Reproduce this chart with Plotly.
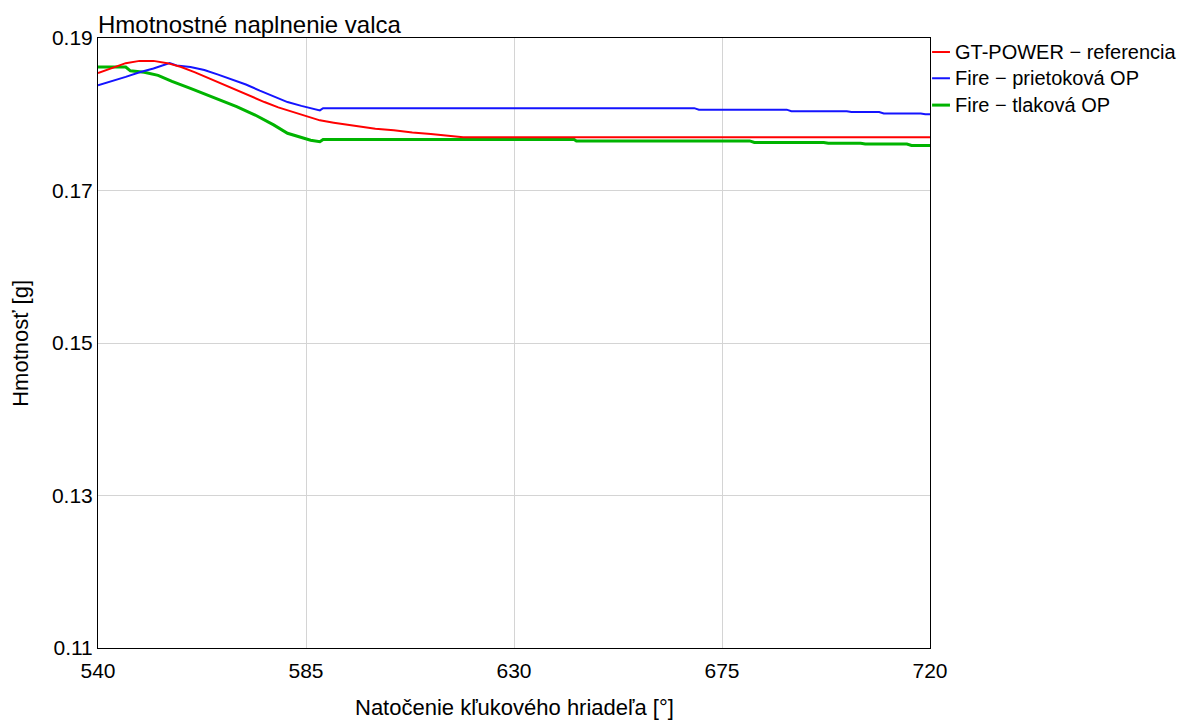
import plotly.graph_objects as go

# Crank angle [deg] and cylinder mass [g] for each model
angle_gt = [540, 543, 546, 549, 552, 555, 558, 561, 564, 567, 570, 573, 576, 579,
            582, 585, 588, 591, 594, 597, 600, 604, 608, 612, 616, 619, 720]
mass_gt = [0.1854, 0.1861, 0.1867, 0.1870, 0.1870, 0.1867, 0.1862, 0.1855, 0.1847,
           0.1840, 0.1832, 0.1824, 0.1816, 0.1809, 0.1803, 0.1797, 0.1792, 0.1789,
           0.1786, 0.1783, 0.1781, 0.1779, 0.1776, 0.1774, 0.1772, 0.1770, 0.1770]

angle_flow = [540, 543, 546, 549, 552, 555.5, 557, 560, 563, 566, 569, 572, 575,
              578, 581, 584, 586, 588, 588.7, 669, 670, 689, 690, 702, 703, 709,
              710, 718, 719, 720]
mass_flow = [0.1838, 0.1843, 0.1849, 0.1855, 0.1860, 0.1867, 0.1864, 0.1862,
             0.1858, 0.1852, 0.1846, 0.1839, 0.1831, 0.1823, 0.1816, 0.1811,
             0.1808, 0.1805, 0.1808, 0.1808, 0.1806, 0.1806, 0.1804, 0.1804,
             0.1803, 0.1803, 0.1801, 0.1801, 0.1800, 0.1800]

angle_press = [540, 546, 547, 550, 553, 556, 560, 563, 567, 570, 574, 578, 581,
               584, 586, 588, 588.7, 643, 643.5, 681, 682, 697, 698, 705, 706,
               715, 716, 720]
mass_press = [0.1862, 0.1862, 0.1857, 0.1855, 0.1851, 0.1843, 0.1834, 0.1827,
              0.1818, 0.1810, 0.1799, 0.1786, 0.1775, 0.1769, 0.1766, 0.1764,
              0.1767, 0.1767, 0.1765, 0.1765, 0.1763, 0.1763, 0.1762, 0.1762,
              0.1761, 0.1761, 0.1759, 0.1759]

series_names = ["GT-POWER \u2212 referencia", "Fire \u2212 prietoková OP",
                "Fire \u2212 tlaková OP"]
series_colors = ["#ff0000", "#1414ff", "#00b400"]
series_widths = [2, 2, 3]

x_ticks = [540, 585, 630, 675, 720]
y_ticks = [0.11, 0.13, 0.15, 0.17, 0.19]
y_tick_text = ["0.11", "0.13", "0.15", "0.17", "0.19"]

FONT = "Liberation Sans, Arial, sans-serif"

fig = go.Figure()
data = [(angle_gt, mass_gt), (angle_flow, mass_flow), (angle_press, mass_press)]
# draw the thick green line first so the reference curve stays on top
for i in [2, 1, 0]:
    xs, ys = data[i]
    fig.add_trace(go.Scatter(
        x=xs, y=ys, mode="lines", name=series_names[i],
        line=dict(color=series_colors[i], width=series_widths[i]),
        showlegend=False,
    ))

# legend drawn beside the plot area with short line keys
legend_y = [0.977, 0.934, 0.890]
for i, yy in enumerate(legend_y):
    fig.add_shape(type="line", xref="paper", yref="paper",
                  x0=1.0025, x1=1.024, y0=yy, y1=yy,
                  line=dict(color=series_colors[i], width=series_widths[i]))
    fig.add_annotation(xref="paper", yref="paper", x=1.028, y=yy,
                       xanchor="left", yanchor="middle", showarrow=False,
                       text=series_names[i],
                       font=dict(family=FONT, size=20, color="black"))

fig.add_annotation(xref="paper", yref="paper", x=0, y=1, xanchor="left",
                   yanchor="bottom", showarrow=False, xshift=-2, yshift=-2,
                   text="Hmotnostné naplnenie valca",
                   font=dict(family=FONT, size=24, color="black"))
fig.add_annotation(xref="paper", yref="paper", x=0.5, y=-0.098,
                   xanchor="center", yanchor="middle", showarrow=False,
                   text="Natočenie kľukového hriadeľa [°]",
                   font=dict(family=FONT, size=22, color="black"))
fig.add_annotation(xref="paper", yref="paper", x=-0.094, y=0.5,
                   xanchor="center", yanchor="middle", showarrow=False,
                   textangle=-90, text="Hmotnosť [g]",
                   font=dict(family=FONT, size=22, color="black"))

axis_common = dict(showline=True, linecolor="black", linewidth=1, mirror=True,
                   showgrid=True, gridcolor="#d4d4d4", gridwidth=1,
                   zeroline=False, ticks="",
                   tickfont=dict(family=FONT, size=21, color="black"))
fig.update_xaxes(range=[540, 720], tickvals=x_ticks, ticklabelstandoff=4,
                 **axis_common)
fig.update_yaxes(range=[0.11, 0.19], tickvals=y_ticks, ticktext=y_tick_text,
                 **axis_common)

fig.update_layout(
    width=1189, height=720,
    margin=dict(l=98, r=259, t=38, b=72),
    paper_bgcolor="white", plot_bgcolor="white",
    font=dict(family=FONT, color="black"),
)

fig.write_html("out.html")
